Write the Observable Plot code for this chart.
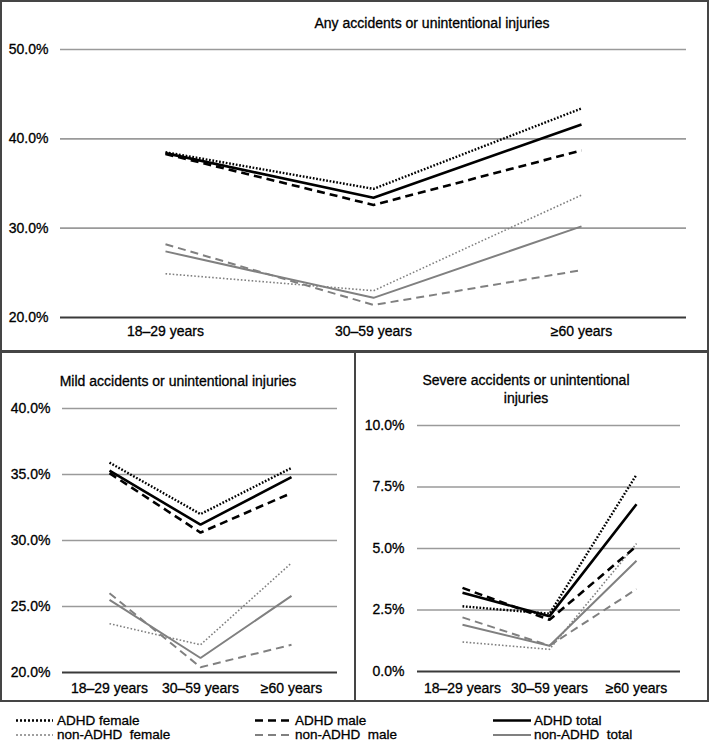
<!DOCTYPE html>
<html>
<head>
<meta charset="utf-8">
<script src="https://cdn.jsdelivr.net/npm/d3@7"></script>
<script src="https://cdn.jsdelivr.net/npm/@observablehq/plot@0.6"></script>
<style>
  html, body { margin: 0; padding: 0; background: #fff; }
  #fig { position: relative; width: 709px; height: 742px; font-family: "Liberation Sans", Arial, sans-serif; color: #000; }
  .box { position: absolute; box-sizing: border-box; border: 2px solid #454545; }
  .plot { position: absolute; }
  .plot text { stroke: #000; stroke-width: 0.3px; }
  .title { position: absolute; font-size: 14px; text-align: center; line-height: 18px; white-space: nowrap; transform: translate(-50%, -50%); -webkit-text-stroke: 0.3px #000; }
</style>
</head>
<body>
<div id="fig"></div>
<script>
// ---------- data ----------
const ages = ["18–29 years", "30–59 years", "≥60 years"];
const seriesNames = ["non-ADHD female", "non-ADHD male", "non-ADHD total", "ADHD female", "ADHD male", "ADHD total"];
const legendLabels = ["ADHD female", "ADHD male", "ADHD total", "non-ADHD  female", "non-ADHD  male", "non-ADHD  total"];

// values (%) per series, in seriesNames order, across ages
const anyValues = [
  [24.9, 23.0, 33.7],
  [28.2, 21.4, 25.3],
  [27.4, 22.2, 30.2],
  [38.5, 34.4, 43.4],
  [38.3, 32.6, 38.7],
  [38.4, 33.4, 41.6]
];
const mildValues = [
  [23.7, 22.1, 28.3],
  [26.0, 20.4, 22.1],
  [25.5, 21.1, 25.8],
  [35.9, 32.0, 35.5],
  [35.1, 30.6, 33.6],
  [35.3, 31.2, 34.8]
];
const severeValues = [
  [1.2, 0.9, 5.2],
  [2.2, 1.05, 3.35],
  [1.9, 1.05, 4.5],
  [2.65, 2.35, 8.0],
  [3.4, 2.1, 5.1],
  [3.2, 2.25, 6.8]
];
const anyTicks = [20, 30, 40, 50];
const mildTicks = [20, 25, 30, 35, 40];
const severeTicks = [0, 2.5, 5, 7.5, 10];

// ---------- styles ----------
const styles = {
  "non-ADHD female": {stroke: "#808080", strokeWidth: 1.6, strokeDasharray: "1.6,2"},
  "non-ADHD male":   {stroke: "#808080", strokeWidth: 2,   strokeDasharray: "8,5"},
  "non-ADHD total":  {stroke: "#808080", strokeWidth: 2,   strokeDasharray: null},
  "ADHD female":     {stroke: "#000",    strokeWidth: 2.4, strokeDasharray: "1.7,1.7"},
  "ADHD male":       {stroke: "#000",    strokeWidth: 2.6, strokeDasharray: "8,5"},
  "ADHD total":      {stroke: "#000",    strokeWidth: 2.6, strokeDasharray: null}
};

function rows(values) {
  const out = [];
  seriesNames.forEach((s, i) => ages.forEach((a, j) => out.push({series: s, age: a, value: values[i][j]})));
  return out;
}

const fig = document.getElementById("fig");

function addDiv(cls, css, html) {
  const d = document.createElement("div");
  d.className = cls;
  Object.assign(d.style, css);
  if (html != null) d.innerHTML = html;
  fig.appendChild(d);
  return d;
}

function panel({values, ticks, left, top, width, height, margins, xPad, yPad}) {
  const data = rows(values);
  const marks = [
    Plot.ruleY(ticks.slice(1), {stroke: "#9a9a9a", strokeWidth: 1.6}),
    Plot.ruleY([ticks[0]], {stroke: "#3a3a3a", strokeWidth: 1.8})
  ];
  for (const s of seriesNames) {
    const st = styles[s];
    const opts = {x: "age", y: "value", stroke: st.stroke, strokeWidth: st.strokeWidth, strokeLinecap: "butt", strokeLinejoin: "miter"};
    if (st.strokeDasharray) opts.strokeDasharray = st.strokeDasharray;
    marks.push(Plot.line(data.filter(d => d.series === s), opts));
  }
  const chart = Plot.plot({
    width, height,
    marginLeft: margins[0], marginRight: margins[1], marginTop: margins[2], marginBottom: margins[3],
    style: {fontSize: "14px", fontFamily: "'Liberation Sans', Arial, sans-serif", color: "#000", background: "transparent", overflow: "visible"},
    x: {type: "point", domain: ages, padding: 0.5, tickSize: 0, tickPadding: xPad, label: null},
    y: {domain: [ticks[0], ticks[ticks.length - 1]], ticks, tickFormat: d => d.toFixed(1) + "%", tickSize: 0, tickPadding: yPad, label: null},
    marks
  });
  chart.classList.add("plot");
  chart.style.left = left + "px";
  chart.style.top = top + "px";
  fig.appendChild(chart);
}

// boxes
addDiv("box", {left: "0px", top: "0px", width: "709px", height: "353px"});
addDiv("box", {left: "0px", top: "350px", width: "356px", height: "352px"});
addDiv("box", {left: "354px", top: "350px", width: "355px", height: "352px"});

// panels
panel({values: anyValues, ticks: anyTicks, left: 0, top: 0, width: 709, height: 351,
       margins: [60, 23, 49, 34], xPad: 9, yPad: 12});
panel({values: mildValues, ticks: mildTicks, left: 0, top: 351, width: 354, height: 350,
       margins: [62, 17, 57, 29], xPad: 11, yPad: 12});
panel({values: severeValues, ticks: severeTicks, left: 354, top: 351, width: 355, height: 350,
       margins: [63, 29, 74, 30], xPad: 12, yPad: 13});

// titles
addDiv("title", {left: "432px", top: "23px"}, "Any accidents or unintentional injuries");
addDiv("title", {left: "178px", top: "381px"}, "Mild accidents or unintentional injuries");
addDiv("title", {left: "526px", top: "389px"}, "Severe accidents or unintentional<br>injuries");

// legend
const legendOrder = ["ADHD female", "ADHD male", "ADHD total", "non-ADHD female", "non-ADHD male", "non-ADHD total"];
const colX = [[16, 53, 57], [255, 293, 295], [493, 531, 534]];
const rowBase = [24.5, 39];
const leg = d3.create("svg").attr("width", 709).attr("height", 42)
  .style("position", "absolute").style("left", "0px").style("top", "700px")
  .style("font-family", "'Liberation Sans', Arial, sans-serif").style("font-size", "13.5px");
legendOrder.forEach((s, i) => {
  const r = Math.floor(i / 3), c = i % 3;
  const st = styles[s];
  const y = rowBase[r] - 4;
  const line = leg.append("line").attr("x1", colX[c][0]).attr("x2", colX[c][1]).attr("y1", y).attr("y2", y)
    .attr("stroke", st.stroke).attr("stroke-width", st.strokeWidth);
  if (st.strokeDasharray) line.attr("stroke-dasharray", s.includes("female") ? "2,2" : "8,5");
  leg.append("text").attr("x", colX[c][2]).attr("y", rowBase[r]).style("white-space", "pre")
    .attr("stroke", "#000").attr("stroke-width", 0.3).text(legendLabels[i]);
});
fig.appendChild(leg.node());
</script>
</body>
</html>
